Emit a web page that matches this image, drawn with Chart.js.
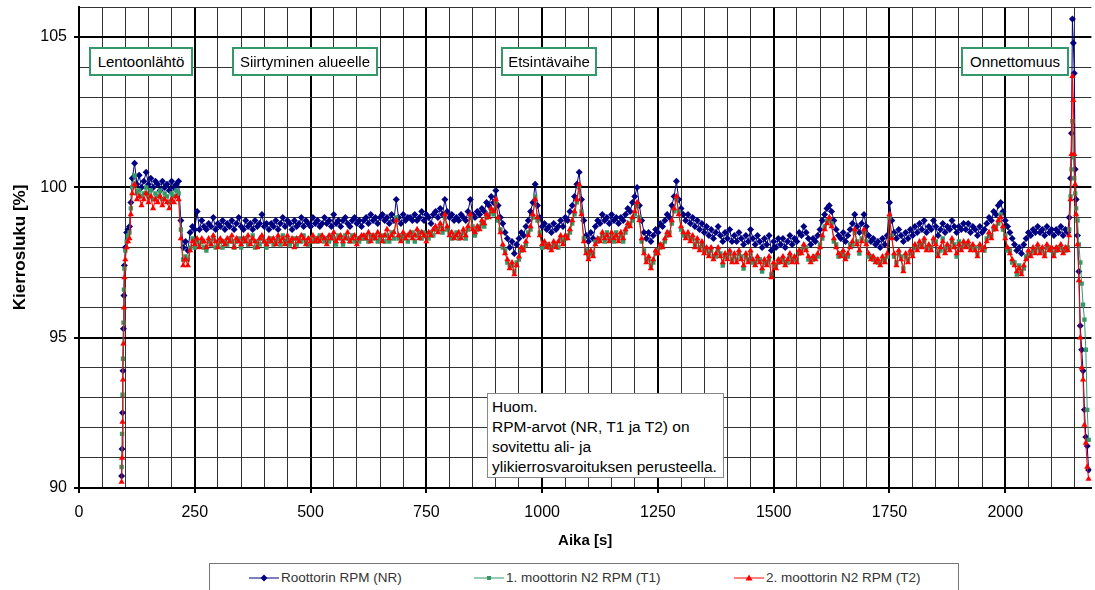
<!DOCTYPE html>
<html>
<head>
<meta charset="utf-8">
<script src="https://cdn.jsdelivr.net/npm/chart.js@4.4.1/dist/chart.umd.min.js"></script>
<style>
  body { margin: 0; background: #fff; overflow: hidden; }
  #wrap { position: relative; width: 1095px; height: 590px; overflow: hidden;
          font-family: "Liberation Sans", Arial, sans-serif; color: #000; }
  #rpmChart { position: absolute; left: 0; top: 0; }
  .phase { position: absolute; top: 47px; height: 25px; line-height: 25px; border: 2px solid #33996b;
           background: #fff; font-size: 15px; text-align: center; white-space: nowrap; }
  #note { position: absolute; left: 487px; top: 393px; width: 231px; height: 80px; padding: 3px 0 0 4px;
          border: 1px solid #888; background: #fff; font-size: 15.5px; line-height: 20px; white-space: nowrap; }
  #legend { position: absolute; left: 209px; top: 563px; width: 748px; height: 60px; border: 1px solid #777; background: #fff; }
  .item { position: absolute; top: 6px; display: flex; align-items: center; font-size: 13.5px; color: #333; white-space: nowrap; }
  .item svg { margin-right: 2px; }
</style>
</head>
<body>
<div id="wrap">
  <canvas id="rpmChart" width="1095" height="590"></canvas>
  <div class="phase" style="left:89px; width:100px;">Lentoonlähtö</div>
  <div class="phase" style="left:232px; width:142px;">Siirtyminen alueelle</div>
  <div class="phase" style="left:501px; width:92px;">Etsintävaihe</div>
  <div class="phase" style="left:961px; width:104px;">Onnettomuus</div>
  <div id="note">Huom.<br>RPM-arvot (NR, T1 ja T2) on<br>sovitettu ali- ja<br>ylikierrosvaroituksen perusteella.</div>
  <div id="legend"></div>
</div>
<script>
// aikapisteet [s]: nousu tiheämmin, lento 5 s välein, loppu tiheämmin
const rampTime = [92, 93, 94, 95, 96, 97, 98, 100, 103, 106, 109, 112];
const crashTime = [2138, 2141, 2143, 2145, 2147, 2149, 2151, 2153, 2156, 2159, 2162, 2165, 2168, 2171, 2174, 2177, 2180];
const flightTime = [];
for (let t = 115; t <= 2135; t += 5) flightTime.push(t);
const time = rampTime.concat(flightTime, crashTime);

const seriesLabels = ['Roottorin RPM (NR)', '1. moottorin N2 RPM (T1)', '2. moottorin N2 RPM (T2)'];

// Roottorin RPM (NR) [%]
const nrRpm = [
  90.4, 91.3, 92.5, 93.9, 95.3, 96.4, 97.4, 98.0, 98.5, 98.6, 98.7, 99.5,
  100.3, 100.8, 100.1, 100.4, 100.0, 100.2, 100.5, 100.1, 100.3, 100.0, 100.2, 100.1, 99.9, 100.2, 100.0, 100.1, 99.9, 100.2, 100.0, 100.1,
  100.2, 98.9, 98.0, 98.2, 97.9, 98.5, 98.7, 98.6, 99.2, 98.6, 98.9, 98.7, 98.6, 98.8, 98.7, 99.0, 98.6, 98.8, 98.7, 98.9,
  98.6, 98.8, 98.7, 98.9, 98.6, 98.8, 99.0, 98.7, 98.6, 98.9, 98.7, 98.8, 98.6, 98.9, 98.7, 98.8, 99.1, 98.7, 98.8, 98.6,
  98.8, 98.7, 98.9, 98.6, 98.8, 99.0, 98.7, 98.9, 98.8, 98.6, 98.9, 98.7, 98.8, 99.0, 98.7, 98.9, 98.8, 98.7, 99.0, 98.8,
  98.9, 98.7, 98.8, 99.0, 98.8, 98.9, 98.7, 99.1, 98.8, 98.9, 98.7, 98.9, 99.0, 98.8, 98.7, 98.9, 99.0, 98.8, 98.9, 98.7,
  98.9, 99.0, 98.8, 99.1, 98.9, 99.0, 98.8, 99.0, 99.1, 98.9, 99.0, 98.8, 99.1, 98.9, 99.6, 99.0, 98.8, 99.1, 98.9, 99.0,
  99.0, 98.9, 99.1, 98.9, 99.0, 99.2, 98.9, 99.1, 99.0, 98.8, 99.1, 99.2, 99.0, 99.3, 99.1, 99.6, 99.2, 99.0, 99.1, 98.9,
  99.0, 98.9, 99.1, 99.0, 98.9, 99.2, 99.6, 99.1, 99.0, 99.2, 99.1, 99.3, 99.2, 99.5, 99.4, 99.7, 99.5, 99.9, 99.4, 99.0,
  98.8, 98.5, 98.3, 98.0, 98.2, 97.8, 98.1, 98.3, 98.5, 98.4, 98.7, 98.9, 99.2, 99.5, 100.1, 99.4, 99.0, 98.7, 98.8, 98.6,
  98.7, 98.5, 98.8, 98.6, 98.7, 98.9, 98.7, 99.0, 98.9, 99.2, 99.4, 99.7, 100.1, 100.5, 99.6, 98.9, 98.4, 98.2, 98.5, 98.3,
  98.7, 98.9, 98.8, 99.1, 98.9, 99.0, 98.8, 99.1, 98.9, 99.0, 98.8, 99.0, 98.9, 99.1, 99.3, 99.2, 99.5, 99.7, 100.0, 99.4,
  98.9, 98.5, 98.3, 98.5, 98.2, 98.4, 98.6, 98.5, 98.8, 98.7, 98.9, 99.1, 99.0, 99.4, 99.7, 100.2, 99.6, 99.3, 99.1, 98.9,
  99.1, 98.8, 99.0, 98.7, 98.9, 98.6, 98.8, 98.5, 98.7, 98.4, 98.6, 98.3, 98.5, 98.7, 98.4, 98.2, 98.5, 98.3, 98.6, 98.2,
  98.4, 98.2, 98.5, 98.3, 98.1, 98.4, 98.2, 98.6, 98.3, 98.1, 98.4, 98.2, 98.0, 98.3, 98.1, 98.4, 97.9, 98.2, 98.0, 98.3,
  98.1, 98.3, 98.0, 98.2, 98.4, 98.1, 98.3, 98.2, 98.5, 98.4, 98.7, 98.5, 98.3, 98.1, 98.3, 98.2, 98.4, 98.6, 98.9, 99.1,
  99.3, 99.4, 99.2, 98.9, 98.6, 98.4, 98.3, 98.5, 98.2, 98.4, 98.6, 98.8, 99.1, 98.7, 98.5, 98.8, 99.1, 98.7, 98.4, 98.2,
  98.3, 98.1, 98.2, 98.0, 98.3, 98.1, 98.4, 99.5, 98.9, 98.5, 98.3, 98.6, 98.4, 98.2, 98.5, 98.3, 98.6, 98.4, 98.7, 98.5,
  98.8, 98.6, 98.9, 98.5, 98.7, 98.6, 98.9, 98.7, 98.4, 98.6, 98.8, 98.5, 98.7, 98.6, 98.9, 98.7, 98.5, 98.7, 98.6, 98.8,
  98.6, 98.8, 98.5, 98.7, 98.6, 98.4, 98.7, 98.5, 98.6, 98.8, 99.0, 98.9, 99.2, 99.1, 99.4, 99.5, 99.2, 98.9, 98.7, 98.5,
  98.3, 98.1, 97.9, 98.0, 97.8, 98.1, 98.3, 98.5, 98.4, 98.6, 98.5, 98.7, 98.5, 98.6, 98.4, 98.7, 98.5, 98.6, 98.4, 98.6,
  98.5, 98.7, 98.4, 98.6, 98.5,
  99.0, 100.3, 101.8, 105.6, 104.8, 103.8, 100.6, 99.6, 98.4, 97.2, 95.4, 94.6, 93.9, 92.6, 91.7, 91.4, 90.6
];

// 1. moottorin N2 RPM (T1) [%]
const t1Rpm = [
  90.7, 91.8, 93.1, 94.3, 95.5, 96.6, 97.3, 97.9, 98.2, 98.4, 98.5, 99.3,
  100.0, 100.4, 99.8, 99.9, 99.7, 99.8, 100.0, 99.7, 99.9, 99.6, 99.8, 99.7, 99.9, 99.6, 99.8, 99.7, 99.5, 99.8, 99.7, 99.9,
  99.8, 98.6, 97.6, 97.7, 97.6, 98.0, 98.3, 98.0, 98.2, 98.1, 98.2, 98.0, 97.9, 98.2, 98.1, 98.3, 98.0, 98.1, 98.2, 98.0,
  98.2, 98.1, 98.3, 98.2, 98.0, 98.2, 98.3, 98.0, 98.2, 98.3, 98.1, 98.2, 98.4, 98.0, 98.2, 98.1, 98.3, 98.2, 98.0, 98.2,
  98.3, 98.1, 98.2, 98.3, 98.1, 98.4, 98.2, 98.3, 98.1, 98.2, 98.3, 98.1, 98.3, 98.2, 98.4, 98.2, 98.1, 98.3, 98.2, 98.3,
  98.2, 98.4, 98.3, 98.2, 98.3, 98.2, 98.4, 98.3, 98.1, 98.4, 98.3, 98.1, 98.4, 98.3, 98.2, 98.4, 98.2, 98.3, 98.2, 98.3,
  98.3, 98.4, 98.2, 98.4, 98.3, 98.4, 98.2, 98.3, 98.4, 98.2, 98.4, 98.2, 98.5, 98.3, 99.0, 98.3, 98.4, 98.3, 98.4, 98.2,
  98.4, 98.5, 98.2, 98.4, 98.5, 98.3, 98.5, 98.4, 98.3, 98.5, 98.4, 98.6, 98.6, 98.7, 98.5, 99.0, 98.6, 98.5, 98.3, 98.4,
  98.5, 98.3, 98.4, 98.5, 98.3, 98.6, 99.0, 98.7, 98.4, 98.6, 98.7, 98.8, 98.7, 99.0, 99.1, 99.2, 99.1, 99.5, 98.9, 98.6,
  98.0, 97.9, 97.5, 97.4, 97.4, 97.2, 97.5, 97.6, 97.9, 98.0, 98.1, 98.5, 98.6, 99.0, 99.7, 98.9, 98.5, 98.0, 98.1, 98.1,
  98.0, 98.0, 98.1, 98.1, 98.0, 98.3, 98.2, 98.3, 98.4, 98.5, 98.8, 99.1, 99.5, 100.0, 99.2, 98.3, 97.9, 97.7, 97.8, 97.8,
  98.2, 98.2, 98.3, 98.4, 98.2, 98.5, 98.3, 98.4, 98.2, 98.5, 98.3, 98.4, 98.2, 98.5, 98.7, 98.8, 98.9, 99.1, 99.4, 99.0,
  98.2, 97.9, 97.6, 97.6, 97.4, 97.5, 97.8, 97.9, 98.0, 98.1, 98.2, 98.4, 98.5, 98.8, 99.2, 99.6, 99.2, 98.6, 98.4, 98.4,
  98.4, 98.3, 98.3, 98.1, 98.2, 98.0, 98.1, 97.9, 97.9, 97.8, 97.9, 97.7, 97.7, 97.9, 97.8, 97.4, 97.7, 97.7, 97.8, 97.6,
  97.7, 97.6, 97.8, 97.7, 97.3, 97.7, 97.6, 97.8, 97.5, 97.5, 97.6, 97.6, 97.2, 97.5, 97.5, 97.6, 97.1, 97.4, 97.4, 97.5,
  97.6, 97.6, 97.5, 97.5, 97.7, 97.6, 97.6, 97.6, 97.8, 97.9, 98.0, 98.0, 97.6, 97.6, 97.6, 97.7, 97.7, 98.1, 98.3, 98.7,
  98.9, 98.9, 98.8, 98.2, 98.1, 97.7, 97.8, 97.8, 97.7, 97.7, 98.1, 98.1, 98.5, 98.2, 97.8, 98.3, 98.5, 98.2, 97.7, 97.7,
  97.6, 97.6, 97.5, 97.5, 97.6, 97.6, 97.7, 99.0, 98.4, 97.7, 97.5, 97.8, 97.7, 97.3, 97.7, 97.6, 97.8, 97.8, 98.0, 98.0,
  98.1, 98.1, 98.2, 98.0, 98.0, 98.0, 98.2, 98.2, 97.8, 97.9, 98.3, 97.9, 98.0, 98.0, 98.2, 98.1, 97.7, 98.2, 98.0, 98.1,
  98.1, 98.1, 98.0, 98.0, 98.0, 97.8, 98.0, 98.0, 97.9, 98.3, 98.4, 98.4, 98.6, 98.7, 98.8, 99.1, 98.6, 98.4, 97.9, 97.9,
  97.5, 97.5, 97.1, 97.4, 97.2, 97.3, 97.7, 97.8, 97.8, 97.9, 97.9, 98.0, 97.9, 97.9, 97.8, 98.0, 98.0, 97.9, 97.8, 97.9,
  98.0, 98.0, 97.9, 97.9, 98.0,
  98.6, 99.7, 100.6, 102.2, 101.0, 100.3, 99.8, 99.3, 98.9, 98.1, 97.5, 96.8, 96.1, 95.6, 94.6, 92.6, 91.6
];

// 2. moottorin N2 RPM (T2) [%]
const t2Rpm = [
  90.2, 91.0, 92.2, 93.6, 94.8, 96.0, 97.0, 97.6, 98.0, 98.2, 98.3, 99.1,
  99.8, 100.1, 99.6, 99.7, 99.4, 99.6, 99.8, 99.5, 99.7, 99.3, 99.6, 99.5, 99.7, 99.4, 99.6, 99.5, 99.3, 99.6, 99.5, 99.7,
  99.6, 98.3, 97.4, 97.6, 97.4, 97.9, 98.2, 98.1, 98.3, 98.0, 98.3, 98.2, 98.0, 98.3, 98.1, 98.4, 98.2, 98.0, 98.3, 98.2,
  98.1, 98.3, 98.2, 98.4, 98.0, 98.3, 98.2, 98.1, 98.3, 98.2, 98.4, 98.1, 98.3, 98.2, 98.0, 98.3, 98.4, 98.2, 98.1, 98.3,
  98.2, 98.3, 98.1, 98.4, 98.2, 98.3, 98.1, 98.4, 98.2, 98.3, 98.0, 98.3, 98.2, 98.4, 98.3, 98.1, 98.3, 98.2, 98.4, 98.2,
  98.3, 98.2, 98.4, 98.3, 98.1, 98.4, 98.3, 98.5, 98.2, 98.3, 98.4, 98.2, 98.3, 98.5, 98.2, 98.3, 98.4, 98.1, 98.3, 98.4,
  98.4, 98.3, 98.5, 98.2, 98.4, 98.3, 98.5, 98.4, 98.2, 98.4, 98.6, 98.3, 98.4, 98.5, 98.9, 98.4, 98.2, 98.5, 98.3, 98.4,
  98.5, 98.3, 98.4, 98.6, 98.3, 98.5, 98.4, 98.2, 98.5, 98.4, 98.6, 98.7, 98.5, 98.8, 98.6, 99.1, 98.7, 98.4, 98.5, 98.3,
  98.4, 98.5, 98.3, 98.6, 98.4, 98.7, 99.1, 98.6, 98.5, 98.7, 98.6, 98.9, 98.8, 99.1, 99.0, 99.3, 99.2, 99.6, 99.0, 98.5,
  98.1, 97.8, 97.6, 97.3, 97.5, 97.1, 97.4, 97.7, 98.0, 97.9, 98.2, 98.4, 98.7, 99.1, 99.6, 99.0, 98.4, 98.1, 98.2, 98.0,
  98.1, 97.9, 98.2, 98.0, 98.2, 98.4, 98.1, 98.4, 98.3, 98.6, 98.9, 99.2, 99.6, 100.1, 99.1, 98.2, 97.8, 97.6, 97.9, 97.7,
  98.1, 98.3, 98.2, 98.5, 98.3, 98.4, 98.2, 98.5, 98.3, 98.4, 98.2, 98.5, 98.3, 98.6, 98.8, 98.7, 99.0, 99.2, 99.5, 98.9,
  98.3, 97.8, 97.5, 97.7, 97.3, 97.6, 97.9, 97.8, 98.1, 98.0, 98.3, 98.5, 98.4, 98.9, 99.3, 99.7, 99.1, 98.7, 98.5, 98.3,
  98.5, 98.2, 98.4, 98.0, 98.3, 97.9, 98.2, 97.8, 98.0, 97.7, 98.0, 97.6, 97.8, 98.0, 97.7, 97.5, 97.8, 97.6, 97.9, 97.5,
  97.8, 97.5, 97.9, 97.6, 97.4, 97.8, 97.5, 97.9, 97.6, 97.4, 97.7, 97.5, 97.3, 97.6, 97.4, 97.7, 97.0, 97.5, 97.3, 97.6,
  97.5, 97.7, 97.4, 97.6, 97.8, 97.5, 97.7, 97.5, 97.9, 97.8, 98.1, 97.9, 97.7, 97.5, 97.7, 97.6, 97.8, 98.0, 98.4, 98.6,
  98.8, 99.0, 98.7, 98.3, 98.0, 97.8, 97.7, 97.9, 97.6, 97.8, 98.0, 98.2, 98.6, 98.1, 97.9, 98.2, 98.6, 98.1, 97.8, 97.6,
  97.7, 97.5, 97.6, 97.4, 97.7, 97.5, 97.8, 99.1, 98.3, 97.8, 97.4, 97.9, 97.6, 97.2, 97.8, 97.5, 97.9, 97.7, 98.1, 97.9,
  98.2, 98.0, 98.3, 97.9, 98.1, 97.9, 98.3, 98.1, 97.7, 98.0, 98.2, 97.8, 98.1, 97.9, 98.3, 98.0, 97.8, 98.1, 97.9, 98.2,
  98.0, 98.2, 97.9, 98.1, 97.9, 97.7, 98.1, 97.9, 98.0, 98.2, 98.5, 98.3, 98.7, 98.6, 98.9, 99.0, 98.7, 98.3, 98.0, 97.8,
  97.6, 97.4, 97.2, 97.3, 97.1, 97.4, 97.6, 97.9, 97.7, 98.0, 97.8, 98.1, 97.8, 98.0, 97.7, 98.1, 97.9, 98.0, 97.7, 98.0,
  97.9, 98.1, 97.8, 98.0, 97.9,
  98.4, 99.6, 101.1, 103.7, 102.9, 101.1, 100.1, 99.1, 98.1, 96.9, 95.0, 94.0, 93.6, 92.1, 91.5, 90.7, 90.3
];

const seriesColors = ['#000080', '#339966', '#ff0000'];
const seriesMarkers = ['rectRot', 'rect', 'triangle'];
const legendX = [39, 264, 524];

function pairs(values) {
  const n = Math.min(time.length, values.length);
  const out = [];
  for (let i = 0; i < n; i++) out.push({ x: time[i], y: values[i] });
  return out;
}

const tickFont = { family: '"Liberation Sans", Arial, sans-serif', size: 16 };

new Chart(document.getElementById('rpmChart'), {
  type: 'line',
  data: {
    datasets: [
      { label: seriesLabels[0], data: pairs(nrRpm), borderColor: seriesColors[0], backgroundColor: seriesColors[0],
        pointStyle: seriesMarkers[0], pointRadius: 3.5, order: 3 },
      { label: seriesLabels[1], data: pairs(t1Rpm), borderColor: seriesColors[1], backgroundColor: seriesColors[1],
        pointStyle: seriesMarkers[1], pointRadius: 3.1, order: 2 },
      { label: seriesLabels[2], data: pairs(t2Rpm), borderColor: seriesColors[2], backgroundColor: seriesColors[2],
        pointStyle: seriesMarkers[2], pointRadius: 3.6, order: 1 }
    ]
  },
  options: {
    responsive: false,
    animation: false,
    devicePixelRatio: 1,
    layout: { padding: { top: 7, right: 0, bottom: 40, left: 0 } },
    plugins: { legend: { display: false }, tooltip: { enabled: false } },
    elements: {
      line: { borderWidth: 1, tension: 0 },
      point: { borderWidth: 0, hoverRadius: 0 }
    },
    scales: {
      x: {
        type: 'linear', min: 0, max: 2186,
        afterFit: (s) => { s.height = 62; s.paddingLeft = 0; s.paddingRight = 0; },
        border: { display: true, color: '#000', width: 2 },
        grid: {
          color: (c) => (c.tick && c.tick.value % 250 === 0 ? '#000' : '#333'),
          lineWidth: (c) => (c.tick && c.tick.value % 250 === 0 ? 2 : 1),
          tickLength: 5,
          tickColor: (c) => (c.tick && c.tick.value % 250 === 0 ? '#000' : 'transparent'),
          tickWidth: 2
        },
        ticks: {
          stepSize: 50, autoSkip: false, maxRotation: 0, includeBounds: false, padding: 10,
          color: '#000', font: tickFont,
          callback: (v) => (v % 250 === 0 ? v : '')
        },
        title: { display: true, text: 'Aika [s]', color: '#000', padding: { top: 4, bottom: 0 },
          font: { family: tickFont.family, size: 15, weight: 'bold' } }
      },
      y: {
        min: 90, max: 106,
        afterFit: (s) => { s.width = 79; s.paddingTop = 0; s.paddingBottom = 0; },
        border: { display: true, color: '#000', width: 2 },
        grid: {
          color: (c) => (c.tick && c.tick.value % 5 === 0 ? '#000' : '#333'),
          lineWidth: (c) => (c.tick && c.tick.value % 5 === 0 ? 2 : 1),
          tickLength: 5,
          tickColor: (c) => (c.tick && c.tick.value % 5 === 0 ? '#000' : 'transparent'),
          tickWidth: 2
        },
        ticks: {
          stepSize: 1, autoSkip: false, padding: 7, color: '#000', font: tickFont,
          callback: (v) => (v % 5 === 0 ? v : '')
        },
        title: { display: true, text: 'Kierrosluku [%]', color: '#000', padding: { top: 10, bottom: 0 },
          font: { family: tickFont.family, size: 17, weight: 'bold' } }
      }
    }
  }
});

// selite kehyksen sisään
const legendEl = document.getElementById('legend');
const markerSvg = {
  rectRot: (c) => `<polygon points="15,3.5 18.5,7 15,10.5 11.5,7" fill="${c}"/>`,
  rect: (c) => `<rect x="13" y="5" width="4" height="4" fill="${c}"/>`,
  triangle: (c) => `<polygon points="15,3.5 18.5,9.5 11.5,9.5" fill="${c}"/>`
};
seriesLabels.forEach((label, i) => {
  const item = document.createElement('div');
  item.className = 'item';
  item.style.left = legendX[i] + 'px';
  item.innerHTML = `<svg width="30" height="14"><line x1="0" y1="7" x2="30" y2="7" stroke="${seriesColors[i]}" stroke-width="1"/>${markerSvg[seriesMarkers[i]](seriesColors[i])}</svg><span>${label}</span>`;
  legendEl.appendChild(item);
});
</script>
</body>
</html>
